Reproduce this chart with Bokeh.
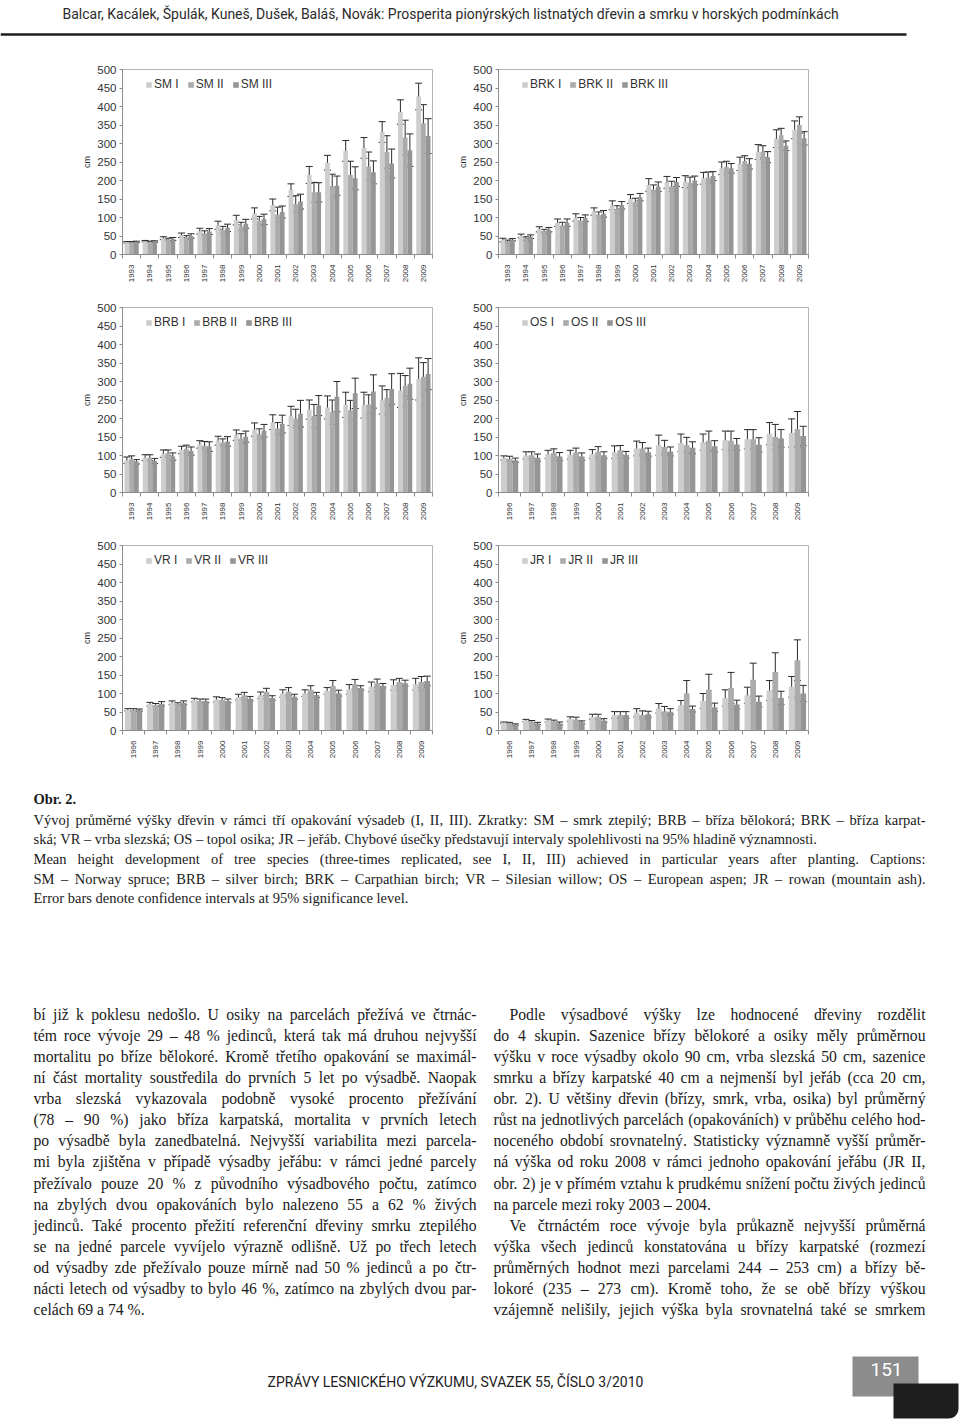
import unicodedata
import numpy as np
from bokeh.plotting import figure
from bokeh.layouts import column, row
from bokeh.models import (Range1d, FixedTicker, ColumnDataSource, Whisker, TeeHead,
                          Legend, LegendItem)
from bokeh.embed import file_html
from bokeh.resources import INLINE
from bokeh.core.properties import value

# ---------------- data ----------------
years_93 = ["1993", "1994", "1995", "1996", "1997", "1998", "1999", "2000", "2001",
            "2002", "2003", "2004", "2005", "2006", "2007", "2008", "2009"]
years_96 = ["1996", "1997", "1998", "1999", "2000", "2001", "2002", "2003", "2004",
            "2005", "2006", "2007", "2008", "2009"]
replications = ["I", "II", "III"]
y_ticks = [0, 50, 100, 150, 200, 250, 300, 350, 400, 450, 500]

# SM - smrk ztepilý
sm_i = [33, 36, 44, 52, 63, 79, 93, 111, 134, 174, 215, 248, 280, 288, 331, 385, 427]
sm_i_err = [2, 2, 4, 6, 8, 11, 13, 15, 16, 17, 23, 20, 28, 28, 28, 33, 36]
sm_ii = [33, 34, 40, 46, 57, 66, 76, 91, 108, 136, 168, 185, 215, 238, 277, 316, 355]
sm_ii_err = [2, 2, 4, 5, 7, 10, 11, 12, 20, 23, 27, 32, 37, 39, 44, 47, 50]
sm_iii = [34, 35, 42, 50, 62, 72, 83, 95, 115, 143, 168, 186, 206, 222, 246, 282, 320]
sm_iii_err = [2, 2, 4, 6, 8, 10, 12, 14, 16, 20, 26, 26, 31, 31, 39, 44, 47]

# BRK - bříza karpatská
brk_i = [39, 50, 68, 86, 100, 116, 133, 150, 188, 195, 197, 206, 233, 245, 277, 313, 337]
brk_i_err = [5, 5, 7, 10, 10, 10, 12, 12, 17, 16, 16, 16, 17, 18, 20, 24, 24]
brk_ii = [35, 43, 62, 78, 91, 107, 122, 142, 176, 184, 194, 208, 237, 253, 278, 322, 350]
brk_ii_err = [4, 5, 6, 9, 9, 8, 10, 10, 12, 14, 15, 15, 15, 14, 16, 19, 22]
brk_iii = [40, 48, 67, 86, 98, 110, 133, 155, 183, 196, 200, 212, 233, 245, 263, 294, 314]
brk_iii_err = [3, 5, 6, 10, 9, 9, 10, 10, 13, 12, 12, 12, 13, 14, 15, 13, 18]

# BRB - bříza bělokorá
brb_i = [87, 94, 105, 115, 130, 140, 155, 170, 190, 207, 224, 230, 237, 236, 250, 276, 307]
brb_i_err = [9, 8, 10, 10, 10, 12, 14, 18, 20, 26, 26, 31, 34, 35, 38, 46, 57]
brb_ii = [91, 94, 107, 118, 127, 135, 146, 158, 173, 200, 207, 217, 222, 238, 256, 288, 313]
brb_ii_err = [8, 8, 8, 10, 11, 10, 13, 14, 16, 25, 31, 33, 27, 26, 22, 28, 38]
brb_iii = [83, 85, 97, 112, 124, 138, 151, 167, 185, 213, 235, 259, 268, 273, 280, 294, 320]
brb_iii_err = [6, 7, 10, 11, 13, 13, 15, 17, 24, 36, 27, 41, 41, 45, 41, 42, 42]

# OS - topol osika
os_i = [93, 100, 103, 102, 104, 109, 119, 128, 134, 136, 141, 144, 159, 161]
os_i_err = [6, 10, 11, 12, 12, 17, 20, 27, 24, 22, 25, 26, 30, 38]
os_ii = [91, 101, 107, 108, 110, 114, 119, 123, 128, 140, 140, 144, 150, 171]
os_ii_err = [7, 9, 11, 12, 14, 13, 16, 18, 21, 26, 26, 26, 34, 48]
os_iii = [87, 94, 97, 97, 101, 102, 109, 111, 121, 125, 130, 129, 146, 153]
os_iii_err = [6, 10, 11, 10, 9, 9, 11, 12, 16, 15, 16, 19, 24, 26]

# VR - vrba slezská
vr_i = [56, 71, 75, 82, 84, 90, 95, 100, 101, 107, 111, 118, 123, 125]
vr_i_err = [3, 5, 5, 5, 7, 8, 9, 10, 9, 9, 13, 13, 14, 16]
vr_ii = [56, 69, 72, 80, 83, 95, 104, 105, 110, 120, 125, 128, 131, 131]
vr_ii_err = [3, 4, 3, 5, 6, 8, 10, 11, 11, 15, 13, 11, 10, 15]
vr_iii = [55, 72, 75, 80, 80, 86, 88, 91, 96, 101, 115, 121, 128, 134]
vr_iii_err = [3, 6, 5, 5, 5, 6, 6, 7, 7, 8, 6, 6, 8, 13]

# JR - jeřáb
jr_i = [21, 27, 27, 31, 37, 42, 48, 60, 68, 80, 88, 95, 108, 118]
jr_i_err = [2, 3, 4, 6, 7, 9, 11, 13, 13, 20, 22, 22, 27, 28]
jr_ii = [20, 24, 24, 30, 37, 42, 42, 52, 100, 110, 115, 137, 158, 190]
jr_ii_err = [2, 3, 4, 6, 7, 9, 11, 13, 35, 42, 42, 45, 52, 55]
jr_iii = [16, 19, 19, 22, 27, 42, 44, 51, 58, 63, 70, 78, 88, 100]
jr_iii_err = [2, 3, 4, 4, 5, 9, 8, 8, 8, 11, 12, 15, 18, 22]

# ---------------- texts ----------------
header_text = ("Balcar, Kacálek, Špulák, Kuneš, Dušek, Baláš, Novák: Prosperita pionýrských "
               "listnatých dřevin a smrku v horských podmínkách")
fig_label = "Obr. 2."
caption_lines = [
    "Vývoj průměrné výšky dřevin v rámci tří opakování výsadeb (I, II, III). Zkratky: SM – smrk ztepilý; BRB – bříza bělokorá; BRK – bříza karpat-",
    "ská; VR – vrba slezská; OS – topol osika; JR – jeřáb. Chybové úsečky představují intervaly spolehlivosti na 95% hladině významnosti.",
    "Mean height development of tree species (three-times replicated, see I, II, III) achieved in particular years after planting. Captions:",
    "SM – Norway spruce; BRB – silver birch; BRK – Carpathian birch; VR – Silesian willow; OS – European aspen; JR – rowan (mountain ash).",
    "Error bars denote confidence intervals at 95% significance level.",
]
caption_justified = [True, False, True, True, False]
left_col = [
    "bí již k poklesu nedošlo. U osiky na parcelách přežívá ve čtrnác-",
    "tém roce vývoje 29 – 48 % jedinců, která tak má druhou nejvyšší",
    "mortalitu po bříze bělokoré. Kromě třetího opakování se maximál-",
    "ní část mortality soustředila do prvních 5 let po výsadbě. Naopak",
    "vrba slezská vykazovala podobně vysoké procento přežívání",
    "(78 – 90 %) jako bříza karpatská, mortalita v prvních letech",
    "po výsadbě byla zanedbatelná. Nejvyšší variabilita mezi parcela-",
    "mi byla zjištěna v případě výsadby jeřábu: v rámci jedné parcely",
    "přežívalo pouze 20 % z původního výsadbového počtu, zatímco",
    "na zbylých dvou opakováních bylo nalezeno 55 a 62 % živých",
    "jedinců. Také procento přežití referenční dřeviny smrku ztepilého",
    "se na jedné parcele vyvíjelo výrazně odlišně. Už po třech letech",
    "od výsadby zde přežívalo pouze mírně nad 50 % jedinců a po čtr-",
    "nácti letech od výsadby to bylo 46 %, zatímco na zbylých dvou par-",
    "celách 69 a 74 %.",
]
left_justified = [True] * 14 + [False]
right_col = [
    "Podle výsadbové výšky lze hodnocené dřeviny rozdělit",
    "do 4 skupin. Sazenice břízy bělokoré a osiky měly průměrnou",
    "výšku v roce výsadby okolo 90 cm, vrba slezská 50 cm, sazenice",
    "smrku a břízy karpatské 40 cm a nejmenší byl jeřáb (cca 20 cm,",
    "obr. 2). U většiny dřevin (břízy, smrk, vrba, osika) byl průměrný",
    "růst na jednotlivých parcelách (opakováních) v průběhu celého hod-",
    "noceného období srovnatelný. Statisticky významně vyšší průměr-",
    "ná výška od roku 2008 v rámci jednoho opakování jeřábu (JR II,",
    "obr. 2) je v přímém vztahu k prudkému snížení počtu živých jedinců",
    "na parcele mezi roky 2003 – 2004.",
    "Ve čtrnáctém roce vývoje byla průkazně nejvyšší průměrná",
    "výška všech jedinců konstatována u břízy karpatské (rozmezí",
    "průměrných hodnot mezi parcelami 244 – 253 cm) a břízy bě-",
    "lokoré (235 – 273 cm). Kromě toho, že se obě břízy výškou",
    "vzájemně nelišily, jejich výška byla srovnatelná také se smrkem",
]
right_indent = [True, False, False, False, False, False, False, False, False, False,
                True, False, False, False, False]
right_justified = [True] * 9 + [False] + [True] * 5
footer_text = "ZPRÁVY LESNICKÉHO VÝZKUMU, SVAZEK 55, ČÍSLO 3/2010"
page_number = "151"

# ---------------- style ----------------
BAR_COLORS = ["#cdcdcd", "#ababab", "#959595"]
SANS = "Liberation Sans"
SERIF = "Liberation Serif"
ROW_H = 238
TOP_B = 19
FRAME_H = 185

# approximate advance widths of Liberation Serif (Times metrics, per 1000 em)
SERIF_W = {" ": 250, "%": 833, "(": 333, ")": 333, ",": 250, "-": 333, ".": 250, ":": 278,
           ";": 278, "–": 500, "/": 278,
           "A": 722, "B": 667, "C": 667, "D": 722, "E": 611, "F": 556, "G": 722, "H": 722,
           "I": 333, "J": 389, "K": 722, "L": 611, "M": 889, "N": 722, "O": 722, "P": 556,
           "Q": 722, "R": 667, "S": 556, "T": 611, "U": 722, "V": 722, "W": 944, "X": 722,
           "Y": 722, "Z": 611,
           "a": 444, "b": 500, "c": 444, "d": 500, "e": 444, "f": 333, "g": 500, "h": 500,
           "i": 278, "j": 278, "k": 500, "l": 278, "m": 778, "n": 500, "o": 500, "p": 500,
           "q": 500, "r": 333, "s": 389, "t": 278, "u": 500, "v": 500, "w": 722, "x": 500,
           "y": 500, "z": 444}


def serif_width(s, size):
    tot = 0
    for ch in s:
        if ch in SERIF_W:
            tot += SERIF_W[ch]
        elif ch.isdigit():
            tot += 500
        else:
            base = unicodedata.normalize("NFD", ch)[0]
            tot += SERIF_W.get(base, 500)
    return tot * size / 1000.0


def set_text(p, lines, x0s, x_right, ys, size, justified, style="normal"):
    """Lay out lines of a justified column; words spread between the margins."""
    lx, ly, lt, rx, ry, rt = [], [], [], [], [], []
    for line, x0, y, just in zip(lines, x0s, ys, justified):
        words = line.split(" ")
        if not just or len(words) < 2:
            lx.append(x0); ly.append(y); lt.append(line)
            continue
        widths = [serif_width(w, size) for w in words]
        gap = (x_right - x0 - sum(widths)) / (len(words) - 1)
        x = x0
        for i, (w, wd) in enumerate(zip(words, widths)):
            if i == len(words) - 1:
                rx.append(x_right); ry.append(y); rt.append(w)
            else:
                lx.append(x); ly.append(y); lt.append(w)
            x += wd + gap
    common = dict(text_font=value(SERIF), text_font_size=f"{size}px",
                  text_color="#1a1a1a", text_baseline="middle", text_font_style=style)
    p.text(x=lx, y=ly, text=lt, text_align="left", **common)
    if rt:
        p.text(x=rx, y=ry, text=rt, text_align="right", **common)


def make_chart(code, years, means, errs, right_side):
    n = len(years)
    if right_side:
        width, bl, br = 505, 43, 152
    else:
        width, bl, br = 455, 122, 23
    p = figure(width=width, height=ROW_H, x_range=Range1d(-0.5, n - 0.5),
               y_range=Range1d(0, 500), output_backend="svg", toolbar_location=None,
               min_border_left=bl, min_border_right=br, min_border_top=TOP_B,
               min_border_bottom=ROW_H - TOP_B - FRAME_H)
    p.xgrid.visible = False
    p.ygrid.visible = False
    p.outline_line_color = "#b4b4b4"
    p.outline_line_width = 1

    bw = 0.26
    offsets = [-bw, 0.0, bw]
    items = []
    for k in range(3):
        xs = [i + offsets[k] for i in range(n)]
        up = [m + e for m, e in zip(means[k], errs[k])]
        lo = [m - e for m, e in zip(means[k], errs[k])]
        src = ColumnDataSource(dict(x=xs, top=means[k], upper=up, lower=lo))
        r = p.vbar(x="x", top="top", width=bw, source=src,
                   fill_color=BAR_COLORS[k], line_color=None)
        w = Whisker(base="x", upper="upper", lower="lower", source=src,
                    line_color="#2a2a2a", line_width=1,
                    upper_head=TeeHead(size=7, line_color="#2a2a2a", line_width=1),
                    lower_head=TeeHead(size=7, line_color="#2a2a2a", line_width=1))
        p.add_layout(w)
        items.append(LegendItem(label=f"{code} {replications[k]}", renderers=[r]))

    legend = Legend(items=items, orientation="horizontal", location=(23, 163),
                    border_line_color=None, background_fill_alpha=0,
                    padding=0, margin=0, spacing=8, label_standoff=2,
                    glyph_width=7, glyph_height=7, label_height=14, label_width=10,
                    label_text_font=SANS, label_text_font_size="12px",
                    label_text_color="#333333")
    p.add_layout(legend)

    # x axis: year labels at category centres, small ticks between categories
    xa = p.xaxis[0]
    xa.ticker = FixedTicker(ticks=list(range(n)), minor_ticks=[i - 0.5 for i in range(n + 1)])
    xa.major_label_overrides = {i: y for i, y in enumerate(years)}
    xa.major_label_orientation = np.pi / 2
    xa.major_label_text_font = SANS
    xa.major_label_text_font_size = "8px"
    xa.major_label_text_color = "#333333"
    xa.major_tick_out = 0
    xa.major_tick_in = 0
    xa.minor_tick_out = 4
    xa.minor_tick_in = 0
    xa.minor_tick_line_color = "#8c8c8c"
    xa.major_label_standoff = 6
    xa.axis_line_color = "#8c8c8c"

    ya = p.yaxis[0]
    ya.ticker = FixedTicker(ticks=y_ticks)
    ya.major_label_text_font = SANS
    ya.major_label_text_font_size = "11.5px"
    ya.major_label_text_color = "#333333"
    ya.major_tick_out = 3
    ya.major_tick_in = 0
    ya.major_tick_line_color = "#8c8c8c"
    ya.minor_tick_line_color = None
    ya.major_label_standoff = 3
    ya.axis_line_color = "#8c8c8c"
    ya.axis_label = "cm"
    ya.axis_label_text_font = SANS
    ya.axis_label_text_font_size = "9px"
    ya.axis_label_text_font_style = "normal"
    ya.axis_label_text_color = "#333333"
    ya.axis_label_standoff = 2
    return p


def page_fig(height, y0):
    p = figure(width=960, height=height, x_range=Range1d(0, 960),
               y_range=Range1d(y0 + height, y0), output_backend="svg",
               toolbar_location=None, x_axis_location=None, y_axis_location=None,
               min_border=0)
    p.grid.visible = False
    p.outline_line_color = None
    return p


# header
HEAD_H = 50
head = page_fig(HEAD_H, 0)
head.text(x=[62], y=[13], text=[header_text], text_font=value("Roboto"),
          text_font_size="14px", text_color="#2b2b2b", text_baseline="middle")
head.segment(x0=[0], y0=[34], x1=[906], y1=[34], line_color="#1e1e1e", line_width=2.5)

# charts
c_sm = make_chart("SM", years_93, [sm_i, sm_ii, sm_iii], [sm_i_err, sm_ii_err, sm_iii_err], False)
c_brk = make_chart("BRK", years_93, [brk_i, brk_ii, brk_iii], [brk_i_err, brk_ii_err, brk_iii_err], True)
c_brb = make_chart("BRB", years_93, [brb_i, brb_ii, brb_iii], [brb_i_err, brb_ii_err, brb_iii_err], False)
c_os = make_chart("OS", years_96, [os_i, os_ii, os_iii], [os_i_err, os_ii_err, os_iii_err], True)
c_vr = make_chart("VR", years_96, [vr_i, vr_ii, vr_iii], [vr_i_err, vr_ii_err, vr_iii_err], False)
c_jr = make_chart("JR", years_96, [jr_i, jr_ii, jr_iii], [jr_i_err, jr_ii_err, jr_iii_err], True)

# bottom: caption, body text, footer
Y0 = HEAD_H + 3 * ROW_H
foot = page_fig(1420 - Y0, Y0)
foot.text(x=[33], y=[798], text=[fig_label], text_font=value(SERIF),
          text_font_size="14.5px", text_font_style="bold", text_color="#1a1a1a",
          text_baseline="middle")
set_text(foot, caption_lines, [33] * len(caption_lines), 925,
         [819 + 19.7 * k for k in range(len(caption_lines))], 14.5, caption_justified)
set_text(foot, left_col, [33] * len(left_col), 476,
         [1014 + 21.07 * k for k in range(len(left_col))], 15.7, left_justified)
set_text(foot, right_col, [509 if ind else 493 for ind in right_indent], 925,
         [1014 + 21.07 * k for k in range(len(right_col))], 15.7, right_justified)
foot.text(x=[455], y=[1381], text=[footer_text], text_font=value("Roboto"),
          text_font_size="14px", text_color="#222222", text_align="center",
          text_baseline="middle")
# page number tab
foot.quad(left=[852], right=[918], top=[1356], bottom=[1396], fill_color="#8c8c8c",
          line_color=None)
rad = 10
ang = np.linspace(0, np.pi / 2, 10)
bx = [893, 958] + list(958 - rad + rad * np.cos(ang)) + [893]
by = [1383, 1383] + list(1418 - rad + rad * np.sin(ang)) + [1418]
foot.patch(x=bx, y=by, fill_color="#1e1e1e", line_color=None)
foot.text(x=[886], y=[1369], text=[page_number], text_font=value("Roboto"),
          text_font_size="19px", text_color="white", text_align="center",
          text_baseline="middle")

layout = column(head, row(c_sm, c_brk), row(c_brb, c_os), row(c_vr, c_jr), foot)
open("out.html", "w").write(file_html(layout, INLINE))
